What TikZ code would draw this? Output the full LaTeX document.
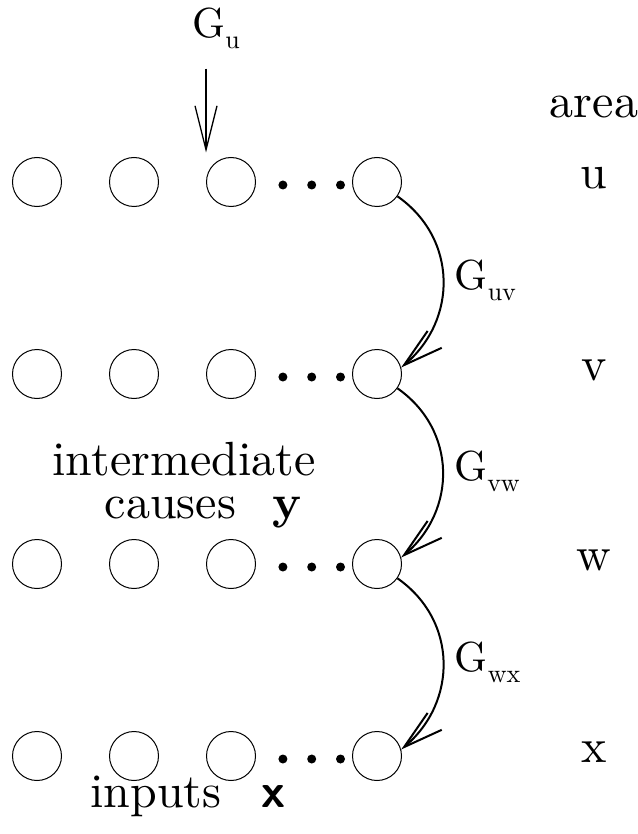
\documentclass[tikz,border=0pt]{standalone}
\usepackage{fontspec}
\setmainfont{lmroman10-regular.otf}[BoldFont=lmroman10-bold.otf, ItalicFont=lmroman10-italic.otf]
\setsansfont{lmsans10-regular.otf}[BoldFont=lmsans10-bold.otf]
\usepackage{tikz}
\usetikzlibrary{arrows.meta, positioning}
\tikzset{
  unit/.style={draw, circle, line width=0.5pt, minimum size=24.5pt, inner sep=0pt},
  dotnode/.style={fill, circle, minimum size=4.5pt, inner sep=0pt},
  lbl/.style={font=\fontsize{24}{28}\selectfont, anchor=mid},
  gain/.style={font=\fontsize{21}{24}\selectfont},
  feed/.style={-{Straight Barb[length=22pt, width=11pt]}, line width=0.65pt},
  link/.style={-{Straight Barb[length=20pt, width=11pt]}, line width=1pt},
}
\newcommand{\gsub}[1]{\raisebox{-5.5pt}{\fontsize{13}{14}\selectfont #1}}

\begin{document}
\begin{tikzpicture}[x=0.5pt, y=0.5pt]
  \useasboundingbox (0,0) rectangle (637,-834);

  % one row of units per area
  \foreach \r/\y in {u/182, v/374, w/564, x/756} {
    \node[unit] (\r1) at (37,-\y) {};
    \node[unit, right=23.5pt of \r1] (\r2) {};
    \node[unit, right=23.5pt of \r2] (\r3) {};
    \node[unit, right=48pt of \r3] (\r4) {};
    \node[dotnode, right=11pt of \r3, yshift=-1.5pt] (\r-d1) {};
    \node[dotnode, right=9.5pt of \r-d1] (\r-d2) {};
    \node[dotnode, right=9.5pt of \r-d2] (\r-d3) {};
    \node[lbl] (\r-name) at (594,-\y-2) {\r};
  }
  \node[lbl] (areahead) at (594,-113) {area};

  % external input to area u
  \node[gain, anchor=base west, inner sep=0pt] (Gu) at (192,-38) {G\gsub{u}};
  \draw[feed, shorten <=9.5pt, shorten >=2.25pt] (Gu.south -| u3.west) -- (u3.north -| u3.west);

  % generative links between areas
  \draw[link] (u4.-35) to[out=-35, in=40, looseness=1.1]
    node[gain, right=2pt] {G\gsub{uv}} (v4.15);
  \draw[link] (v4.-35) to[out=-35, in=40, looseness=1.1]
    node[gain, right=2pt] {G\gsub{vw}} (w4.15);
  \draw[link] (w4.-35) to[out=-35, in=40, looseness=1.1]
    node[gain, right=2pt] {G\gsub{wx}} (x4.15);

  % captions
  \node[lbl, anchor=base, inner sep=1pt] (midcap) at (184,-475) {intermediate};
  \node[lbl, anchor=base, inner sep=1pt] (midvar) at (203,-518) {causes\hspace{18pt}\textbf{y}};
  \node[lbl, anchor=base, inner sep=1pt] (incap) at (188,-807) {inputs\hspace{20pt}{\sffamily\bfseries x}};
\end{tikzpicture}
\end{document}
